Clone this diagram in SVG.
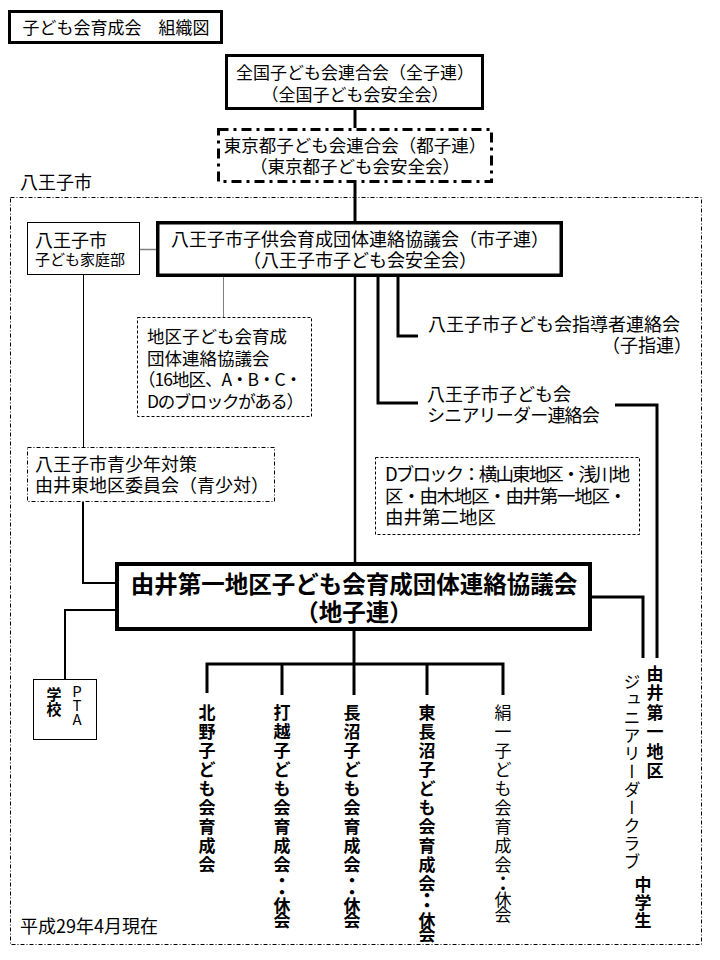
<svg xmlns="http://www.w3.org/2000/svg" width="720" height="960" viewBox="0 0 720 960">
<style>
text{font-family:'Noto Sans CJK JP','Noto Sans',sans-serif;fill:#000}
.box{fill:#fff;stroke:#000}
.b1{stroke-width:1}
.b3{stroke-width:3}
.dash{fill:#fff;stroke:#000;stroke-width:1;stroke-dasharray:3 2}
.dd{fill:#fff;stroke:#000;stroke-width:1;stroke-dasharray:4 2 1 2}
.ln{fill:none;stroke:#000;stroke-linecap:butt;stroke-linejoin:miter}
.gray{fill:none;stroke:#808080}
.v{text-anchor:middle;font-weight:700;font-size:17px}
.vr{text-anchor:middle;font-weight:400;font-size:17px}
</style>
<rect width="720" height="960" fill="#fff"/>

<g id="frame">
<rect x="10.5" y="197.5" width="691" height="747" fill="none" stroke="#000" stroke-width="1" stroke-dasharray="4 2 1 2"/>
<text x="20" y="189" font-size="18">八王子市</text>
<text x="20" y="933" font-size="18">平成29年4月現在</text>
</g>

<g id="connectors">
<path class="ln" stroke-width="3" d="M355 110V128"/>
<path class="ln" stroke-width="3" d="M355 183V221"/>
<path class="ln" stroke-width="2.5" d="M355 277V562"/>
<path class="gray" stroke-width="1.5" d="M140 249.5H156"/>
<path class="gray" stroke-width="1" d="M223.5 277V317"/>
<path class="ln" stroke-width="1" d="M83.5 275V447"/>
<path class="ln" stroke-width="2" d="M83 502V583H115"/>
<path class="ln" stroke-width="2" d="M115 610H65V679"/>
<path class="ln" stroke-width="3" d="M398 277V336H418"/>
<path class="ln" stroke-width="3" d="M378 277V403H418"/>
<path class="ln" stroke-width="3" d="M615 405H657V658"/>
<path class="ln" stroke-width="3" d="M592 597H643V658"/>
<path class="ln" stroke-width="3" d="M354 631V695"/>
<path class="ln" stroke-width="3" d="M207 693V664H503V695"/>
<path class="ln" stroke-width="3" d="M282 664V695M427 664V695"/>
</g>

<g id="title">
<rect class="box" x="9.5" y="11.5" width="212" height="31" stroke-width="3"/>
<text x="116" y="34" font-size="17" text-anchor="middle">子ども会育成会　組織図</text>
</g>

<g id="zenkoku">
<rect class="box b3" x="226.5" y="55.5" width="256" height="53"/>
<text font-size="17" text-anchor="middle"><tspan x="355" y="79">全国子ども会連合会（全子連）</tspan><tspan x="355" y="101">（全国子ども会安全会）</tspan></text>
</g>

<g id="tokyo">
<rect x="218.5" y="129.5" width="273" height="52" fill="#fff" stroke="#000" stroke-width="3" stroke-dasharray="10 5 3 5"/>
<text font-size="17.5" text-anchor="middle"><tspan x="355" y="152">東京都子ども会連合会（都子連）</tspan><tspan x="355" y="173">（東京都子ども会安全会）</tspan></text>
</g>

<g id="katei">
<rect class="box b1" x="27.5" y="222.5" width="112" height="52"/>
<text><tspan x="35" y="247" font-size="18">八王子市</tspan><tspan x="35" y="265" font-size="15">子ども家庭部</tspan></text>
</g>

<g id="shikoren">
<rect class="box" x="157.75" y="222.75" width="403.5" height="52.5" stroke-width="3.5"/>
<text font-size="18" text-anchor="middle"><tspan x="360" y="246">八王子市子供会育成団体連絡協議会（市子連）</tspan><tspan x="360" y="267">（八王子市子ども会安全会）</tspan></text>
</g>

<g id="chiku">
<rect class="dash" x="137.5" y="317.5" width="174" height="99"/>
<text font-size="17.5"><tspan x="147" y="343">地区子ども会育成</tspan><tspan x="147" y="364.5">団体連絡協議会</tspan><tspan x="138" y="386" letter-spacing="-1">（16地区、A・B・C・</tspan><tspan x="147" y="407.5" letter-spacing="-1.4">Dのブロックがある）</tspan></text>
</g>

<g id="shishiren">
<text font-size="18"><tspan x="428" y="331">八王子市子ども会指導者連絡会</tspan><tspan x="692" y="352" text-anchor="end">（子指連）</tspan></text>
</g>

<g id="senior">
<text font-size="18"><tspan x="427" y="401">八王子市子ども会</tspan><tspan x="427" y="422" letter-spacing="-0.8">シニアリーダー連絡会</tspan></text>
</g>

<g id="dblock">
<rect class="dash" x="375.5" y="457.5" width="264" height="77"/>
<text font-size="18.5"><tspan x="385" y="481" letter-spacing="-1.9">Dブロック：横山東地区・浅川地</tspan><tspan x="385" y="502.5" letter-spacing="-1.3">区・由木地区・由井第一地区・</tspan><tspan x="385" y="524">由井第二地区</tspan></text>
</g>

<g id="seishotai">
<rect class="dd" x="27.5" y="447.5" width="247" height="54"/>
<text font-size="18"><tspan x="35" y="471">八王子市青少年対策</tspan><tspan x="35" y="492">由井東地区委員会（青少対）</tspan></text>
</g>

<g id="chikoren">
<rect class="box" x="117" y="564" width="473" height="65" stroke-width="4"/>
<text font-size="23.5" font-weight="700" text-anchor="middle"><tspan x="354" y="593">由井第一地区子ども会育成団体連絡協議会</tspan><tspan x="354" y="621">（地子連）</tspan></text>
</g>

<g id="pta">
<rect class="box b1" x="33.5" y="679.5" width="63" height="60"/>
<text class="v" style="font-size:15px" x="54 54" y="699.5 714.5">学校</text>
<text class="vr" style="font-size:15px" x="77 77 77" y="697 711 725">PTA</text>
</g>

<g id="kitano">
<text class="v" x="207 207 207 207 207 207 207 207 207" y="718.5 737.5 756.5 775.5 794.5 813.5 832.5 851.5 870.5">北野子ども会育成会</text>
</g>

<g id="uchikoshi">
<text class="v" x="282 282 282 282 282 282 282 282 282 282 282 282 282" y="718.5 737.5 756.5 775.5 794.5 813.5 832.5 851.5 870.5 886.5 898.5 911.5 926.5">打越子ども会育成会・・休会</text>
</g>

<g id="naganuma">
<text class="v" x="352 352 352 352 352 352 352 352 352 352 352 352 352" y="718.5 737.5 756.5 775.5 794.5 813.5 832.5 851.5 870.5 886.5 898.5 911.5 926.5">長沼子ども会育成会・・休会</text>
</g>

<g id="higashinaganuma">
<text class="v" x="427 427 427 427 427 427 427 427 427 427 427 427 427 427" y="718.5 737.5 756.5 775.5 794.5 813.5 832.5 851.5 870.5 889.5 901.5 911.5 927 941">東長沼子ども会育成会・・休会</text>
</g>

<g id="kinuichi">
<text class="vr" x="503 503 503 503 503 503 503 503 503 503 503 503 503" y="718.5 737.5 756.5 775.5 794.5 813.5 832.5 851.5 870.5 884.5 894.5 906 921">絹一子ども会育成会・・休会</text>
</g>

<g id="junior">
<text class="v" x="655 655 655 655 655 655" y="679.5 699 718.5 738 757.5 777">由井第一地区</text>
<text x="632" y="673" font-size="17" letter-spacing="1" style="writing-mode:vertical-rl">ジュニアリーダークラブ</text>
<text class="v" x="643 643 643" y="891 909 927">中学生</text>
</g>
</svg>
